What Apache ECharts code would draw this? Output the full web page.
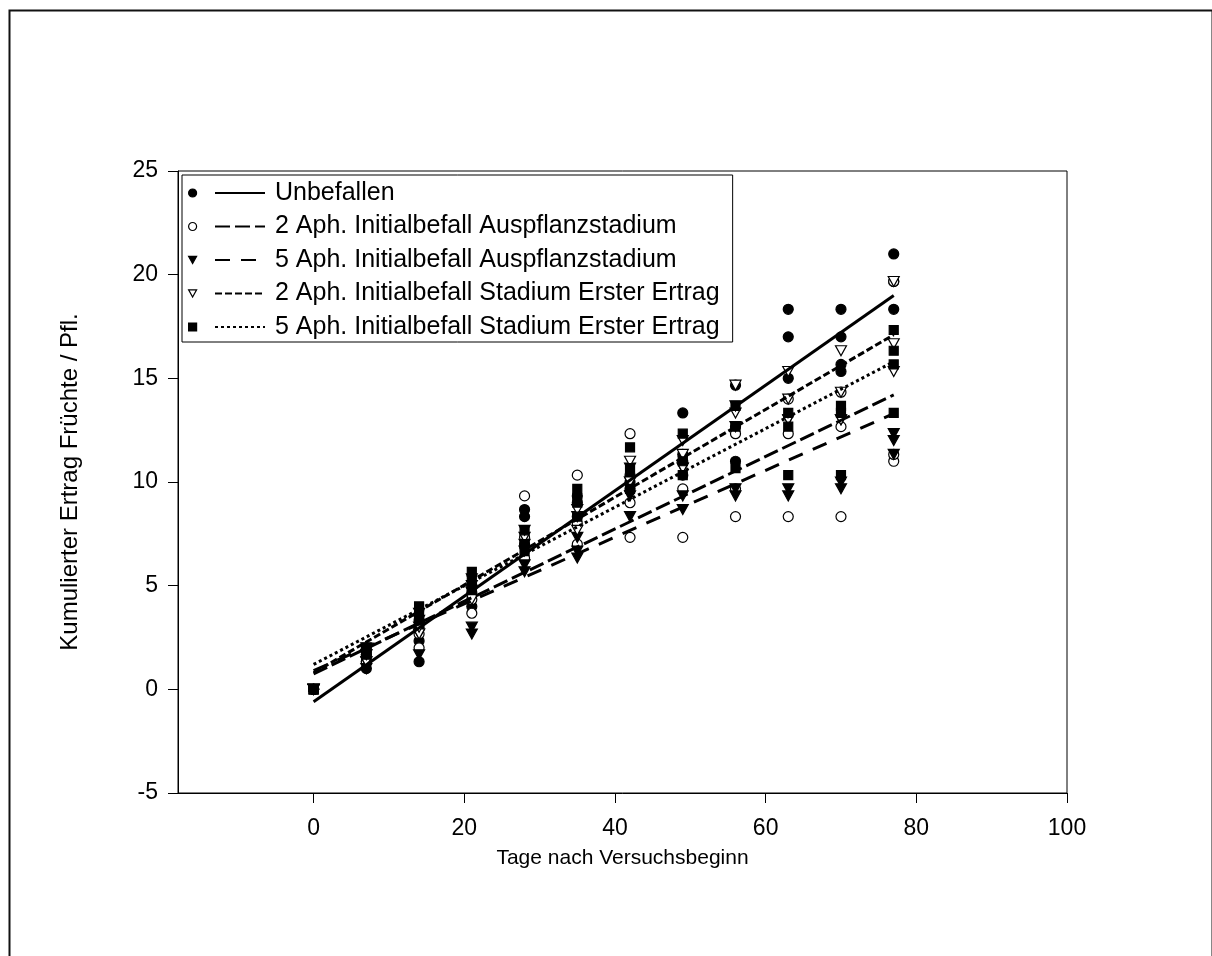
<!DOCTYPE html>
<html>
<head>
<meta charset="utf-8">
<script src="https://cdn.jsdelivr.net/npm/echarts@6/dist/echarts.min.js"></script>
<style>
html,body{margin:0;padding:0;background:#fff;}
#chart{width:1212px;height:956px;}
</style>
</head>
<body>
<div id="chart"></div>
<script>
// ---- data ----
const days = [0, 7, 14, 21, 28, 35, 42, 49, 56, 63, 70, 77];
const xTicks = [0, 20, 40, 60, 80, 100];
const seriesNames = [
  'Unbefallen',
  '2 Aph. Initialbefall Auspflanzstadium',
  '5 Aph. Initialbefall Auspflanzstadium',
  '2 Aph. Initialbefall Stadium Erster Ertrag',
  '5 Aph. Initialbefall Stadium Erster Ertrag'
];
// replicate values per day
const unbefallen = [[0,0,0],[1.0,1.33,1.67],[1.33,2.33,3.0],[4.0,4.67,5.0],[7.0,8.33,8.67],[8.33,9.0,9.33],[9.67,10.0,10.33],[10.33,11.33,13.33],[11.0,12.67,14.67],[15.0,17.0,18.33],[15.33,15.67,17.0,18.33],[18.33,19.67,21.0]];
const aph2Ausp = [[0,0,0],[1.33,1.67,2.0],[2.0,2.67,3.33],[3.67,4.33,5.0],[6.33,7.33,9.33],[7.0,8.0,10.33],[7.33,9.0,12.33],[7.33,9.67,11.0],[8.33,9.67,12.33],[8.33,12.33,14.0],[8.33,12.67,14.33],[11.0,11.33,19.67]];
const aph5Ausp = [[0,0,0],[1.0,1.33,1.67],[1.67,2.67,3.33],[2.67,3.0,4.67],[5.67,6.0,7.0],[6.33,6.67,7.33],[8.33,9.33,10.0],[8.67,9.33,10.67],[9.33,9.67,12.67],[9.33,9.67,13.0],[9.67,10.0,13.0],[11.33,12.0,12.33]];
const aph2Ertrag = [[0,0,0],[1.33,1.67,2.0],[2.67,3.0,3.67],[4.33,5.0,5.33],[6.67,7.33,7.67],[7.67,8.33,8.67],[10.0,10.67,11.0],[10.67,11.33,12.0],[13.33,13.67,14.67],[13.0,14.0,15.33],[13.0,14.33,16.33],[15.33,16.67,19.67]];
const aph5Ertrag = [[0,0,0],[1.67,2.0,2.0],[3.33,3.67,4.0],[5.0,5.33,5.67],[6.67,7.0,7.67],[8.33,9.0,9.67],[9.67,10.67,11.67],[10.33,11.0,12.33],[10.67,12.67,13.67],[10.33,12.67,13.33],[10.33,13.33,13.67],[13.33,15.67,16.33,17.33]];
// regression lines: value at first and last day
const fitDays = [0, 77];
const fitStart = [-0.6, 0.75, 0.9, 0.8, 1.2];
const fitEnd = [19.0, 14.2, 13.3, 17.1, 15.8];

// ---- build ----
const groups = [unbefallen, aph2Ausp, aph5Ausp, aph2Ertrag, aph5Ertrag];
const FONT = "'Liberation Sans', Arial, sans-serif";
const BLACK = '#000';
const TRI_DOWN = 'path://M0,0L10,0L5,9Z';
const symbolStyles = [
  { symbol: 'circle', size: 10, fill: BLACK },
  { symbol: 'circle', size: 10, fill: '#fff' },
  { symbol: TRI_DOWN, size: [11, 10], fill: BLACK },
  { symbol: TRI_DOWN, size: [11, 10], fill: '#fff' },
  { symbol: 'rect', size: 9, fill: BLACK }
];
const lineDash = ['solid', [15, 5], [15, 11], [7, 3], [3, 3]];

function pts(g) {
  const out = [];
  g.forEach((vals, i) => vals.forEach(v => out.push([days[i], v])));
  return out;
}

const series = [];
groups.forEach((g, k) => {
  const st = symbolStyles[k];
  series.push({
    name: 'Messwerte ' + (k + 1),
    type: 'scatter',
    data: pts(g),
    symbol: st.symbol,
    symbolSize: st.size,
    itemStyle: { color: st.fill, borderColor: BLACK, borderWidth: 1.2, opacity: 1 },
    emphasis: { disabled: true },
    z: 3
  });
});
groups.forEach((g, k) => {
  series.push({
    name: seriesNames[k],
    type: 'line',
    data: [[fitDays[0], fitStart[k]], [fitDays[1], fitEnd[k]]],
    symbol: 'none',
    showSymbol: false,
    lineStyle: { color: BLACK, width: 3, type: lineDash[k] },
    itemStyle: { color: BLACK },
    emphasis: { disabled: true },
    z: 4
  });
});

const LEG_TOP = 175, LEG_PAD_TOP = 5, LEG_GAP = 7.5, LEG_LH = 26;

const chart = echarts.init(document.getElementById('chart'), null, { renderer: 'canvas' });
chart.setOption({
  animation: false,
  backgroundColor: '#fff',
  textStyle: { fontFamily: FONT },
  graphic: [{
    type: 'rect', left: 7, top: 8, silent: true,
    shape: { width: 1203, height: 980 },
    style: { fill: 'none', stroke: '#111', lineWidth: 2 }
  }],
  grid: {
    left: 178, right: 145, top: 171, bottom: 163,
    show: true, borderColor: BLACK, borderWidth: 1, backgroundColor: 'transparent'
  },
  legend: [
    {
      data: seriesNames.map((n, k) => ({
        name: 'Messwerte ' + (k + 1),
        icon: k === 2 || k === 3 ? 'path://M0,0L10,0L5,9Z' : (k === 4 ? 'rect' : 'circle')
      })),
      orient: 'vertical',
      left: 188, top: LEG_TOP + LEG_PAD_TOP,
      padding: 0,
      itemWidth: 8, itemHeight: 8,
      itemGap: LEG_GAP,
      formatter: () => ' ',
      itemStyle: { borderWidth: 1.2, borderColor: BLACK },
      textStyle: { fontSize: 25, fontFamily: FONT, lineHeight: LEG_LH },
      selectedMode: false
    },
    {
      data: seriesNames,
      orient: 'vertical',
      left: 182, top: LEG_TOP,
      padding: [LEG_PAD_TOP, 13, 2, 32],
      borderColor: BLACK, borderWidth: 1,
      itemWidth: 50, itemHeight: 12,
      itemGap: LEG_GAP,
      itemStyle: { color: 'rgba(0,0,0,0)', borderWidth: 0, opacity: 0 },
      textStyle: { fontSize: 25, fontFamily: FONT, color: BLACK, lineHeight: LEG_LH, padding: [0, 0, 0, 5] },
      selectedMode: false
    }
  ],
  xAxis: {
    type: 'value',
    min: -18, max: 100,
    name: 'Tage nach Versuchsbeginn',
    nameLocation: 'middle',
    nameGap: 55,
    nameTextStyle: { fontSize: 21, color: BLACK, fontFamily: FONT },
    axisLine: { show: true, onZero: false, lineStyle: { color: BLACK, width: 1 } },
    axisTick: { show: true, length: 10, inside: false, customValues: xTicks, lineStyle: { color: BLACK } },
    axisLabel: { customValues: xTicks, fontSize: 23, color: BLACK, margin: 24, fontFamily: FONT },
    splitLine: { show: false }
  },
  yAxis: {
    type: 'value',
    min: -5, max: 25, interval: 5,
    name: 'Kumulierter Ertrag Früchte / Pfl.',
    nameLocation: 'middle',
    nameGap: 96,
    nameTextStyle: { fontSize: 24, color: BLACK, fontFamily: FONT },
    axisLine: { show: true, onZero: false, lineStyle: { color: BLACK, width: 1 } },
    axisTick: { show: true, length: 10, inside: false, lineStyle: { color: BLACK } },
    axisLabel: { fontSize: 23, color: BLACK, margin: 20, fontFamily: FONT },
    splitLine: { show: false }
  },
  series: series
});
</script>
</body>
</html>
